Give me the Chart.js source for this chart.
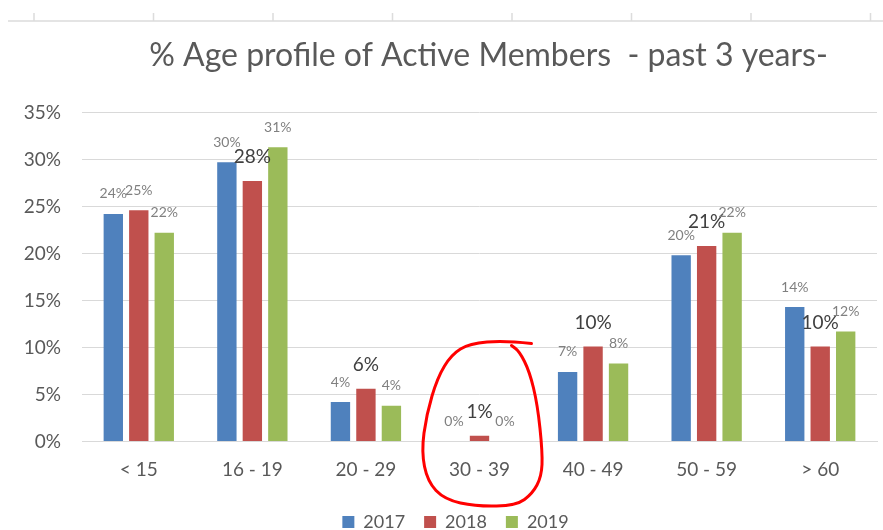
<!DOCTYPE html>
<html>
<head>
<meta charset="utf-8">
<title>% Age profile of Active Members</title>
<script src="https://cdn.jsdelivr.net/npm/chart.js@4.4.1/dist/chart.umd.min.js"></script>
<style>
  body { margin: 0; background: #fff; }
  canvas { display: block; }
</style>
</head>
<body>
<canvas id="ageChart" width="883" height="530"></canvas>
<script>
'use strict';

let ageGroups = ['< 15', '16 - 19', '20 - 29', '30 - 39', '40 - 49', '50 - 59', '> 60'];
let years = ['2017', '2018', '2019'];

let values2017 = [24.2, 29.7, 4.2, 0, 7.4, 19.8, 14.3];
let values2018 = [24.6, 27.7, 5.6, 0.6, 10.1, 20.8, 10.1];
let values2019 = [22.2, 31.3, 3.8, 0, 8.3, 22.2, 11.7];

let yTicks = [0, 5, 10, 15, 20, 25, 30, 35];

let chartTitle = '% Age profile of Active Members  - past 3 years-';

let barColors = ['#4f81bd', '#c0504d', '#9bbb59'];

Chart.defaults.font.family = 'Lato';
Chart.defaults.color = '#595959';

// percent labels over every bar, 2018 ones are bigger (like the excel sheet)
const valueLabels = {
  id: 'valueLabels',
  afterDatasetsDraw(chart) {
    const ctx = chart.ctx;
    ctx.save();
    ctx.textAlign = 'center';
    ctx.textBaseline = 'middle';
    chart.data.datasets.forEach((ds, di) => {
      chart.getDatasetMeta(di).data.forEach((bar, i) => {
        let big = di === 1 && i > 0;
        ctx.font = (big ? '19px' : '14px') + ' Lato';
        ctx.fillStyle = big ? '#404040' : '#808080';
        ctx.fillText(Math.round(ds.data[i]) + '%', bar.x, bar.y - (big ? 24 : 20));
      });
    });
    ctx.restore();
  }
};

// ruler line at the very top of the screenshot
const topRuler = {
  id: 'topRuler',
  beforeDraw(chart) {
    const ctx = chart.ctx;
    ctx.save();
    ctx.strokeStyle = '#dcdcdc';
    ctx.lineWidth = 1.5;
    ctx.beginPath();
    ctx.moveTo(8, 21);
    ctx.lineTo(chart.width, 21);
    for (let x = 34; x < chart.width; x += 119.5) {
      ctx.moveTo(x, 13);
      ctx.lineTo(x, 21);
    }
    ctx.stroke();
    ctx.restore();
  }
};

// hand drawn red ring round the 30 - 39 group
const redRing = {
  id: 'redRing',
  afterDraw(chart) {
    const ctx = chart.ctx;
    let cx = chart.scales.x.getPixelForValue(3);
    let cy = chart.scales.y.getPixelForValue(0);
    let pts = [
      [52, -98], [25, -101], [-10, -98], [-28, -87], [-42, -64], [-53, -27],
      [-58, 10], [-52, 40], [-35, 58], [-3, 65], [37, 64], [53, 52],
      [62, 35], [63, 11], [58, -37], [50, -70], [40, -90], [32, -96]
    ];
    ctx.save();
    ctx.strokeStyle = '#ff0000';
    ctx.lineWidth = 3;
    ctx.lineCap = 'round';
    ctx.lineJoin = 'round';
    ctx.beginPath();
    ctx.moveTo(cx + pts[0][0], cy + pts[0][1]);
    for (let i = 1; i < pts.length - 1; i++) {
      let mx = (pts[i][0] + pts[i + 1][0]) / 2;
      let my = (pts[i][1] + pts[i + 1][1]) / 2;
      ctx.quadraticCurveTo(cx + pts[i][0], cy + pts[i][1], cx + mx, cy + my);
    }
    let last = pts[pts.length - 1];
    ctx.lineTo(cx + last[0], cy + last[1]);
    ctx.stroke();
    ctx.restore();
  }
};

// nudge title and legend to where excel had them
const nudgeBoxes = {
  id: 'nudgeBoxes',
  afterLayout(chart) {
    let t = chart.titleBlock;
    t.left += 50;
    t.right += 50;
    let l = chart.legend;
    l.left += 17;
    l.right += 17;
    l.top += 11;
    l.bottom += 11;
  }
};

let datasets = [values2017, values2018, values2019].map((vals, i) => ({
  label: years[i],
  data: vals,
  backgroundColor: barColors[i],
  borderWidth: 0,
  categoryPercentage: 0.673,
  barPercentage: 0.76
}));

let config = {
  type: 'bar',
  data: {
    labels: ageGroups,
    datasets: datasets
  },
  options: {
    responsive: false,
    animation: false,
    devicePixelRatio: 1,
    layout: {
      padding: { left: 0, right: 6, top: 0, bottom: 0 }
    },
    plugins: {
      title: {
        display: true,
        text: chartTitle,
        color: '#595959',
        font: { size: 32, weight: 'normal' },
        padding: { top: 36, bottom: 38 }
      },
      legend: {
        position: 'bottom',
        labels: {
          boxWidth: 12,
          boxHeight: 12,
          padding: 19,
          color: '#595959',
          font: { size: 18 }
        }
      },
      tooltip: { enabled: false }
    },
    scales: {
      x: {
        afterFit(scale) {
          scale.height = 41.5;
        },
        grid: { display: false, drawTicks: false },
        border: { display: true, color: '#d9d9d9' },
        ticks: { padding: 17, font: { size: 19 }, color: '#595959' }
      },
      y: {
        min: 0,
        max: 35,
        afterFit(scale) {
          scale.width = 82;
        },
        afterBuildTicks(scale) {
          scale.ticks = yTicks.map(v => ({ value: v }));
        },
        grid: { color: '#d9d9d9', drawTicks: false },
        border: { display: false },
        ticks: {
          padding: 21,
          font: { size: 19 },
          color: '#595959',
          callback: v => v + '%'
        }
      }
    }
  },
  plugins: [valueLabels, topRuler, redRing, nudgeBoxes]
};

let ageChart = new Chart(document.getElementById('ageChart'), config);
</script>
</body>
</html>
